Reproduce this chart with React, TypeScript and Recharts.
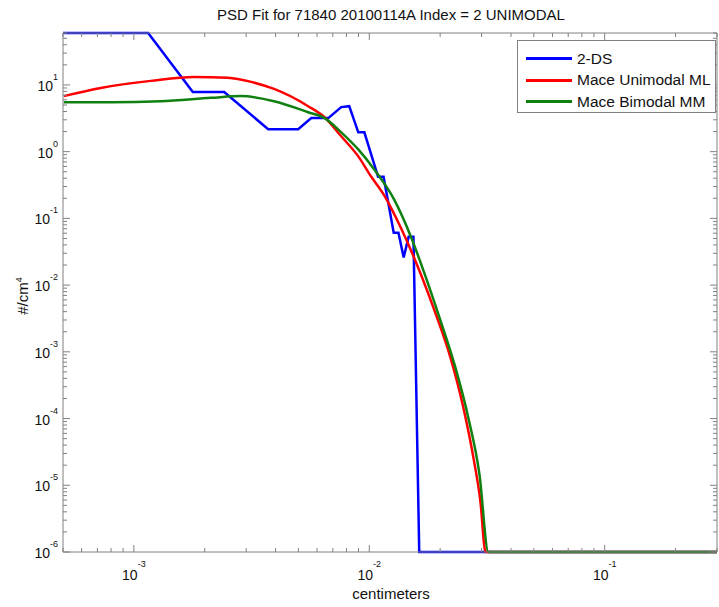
import { Legend, Line, LineChart, XAxis, YAxis } from "recharts";

// 2-DS measured spectrum (cm, #/cm^4), floored at 1e-6
const dsX = [5.0e-4, 1.15e-3, 1.78e-3, 2.42e-3, 3.72e-3, 4.99e-3, 5.67e-3, 6.7e-3, 7.6e-3, 8.22e-3, 8.98e-3, 9.53e-3, 1.09e-2, 1.15e-2, 1.27e-2, 1.33e-2, 1.4e-2, 1.47e-2, 1.54e-2, 1.55e-2, 1.63e-2, 0.3];
const dsY = [60, 60, 7.8, 7.8, 2.17, 2.17, 3.18, 3.18, 4.65, 4.8, 1.95, 1.95, 0.42, 0.42, 0.061, 0.061, 0.026, 0.053, 0.053, 0.0168, 1e-6, 1e-6];

const uniX = [5.04e-4, 7.24e-4, 1.18e-3, 1.8e-3, 2.51e-3, 3.15e-3, 3.94e-3, 5.5e-3, 6.44e-3, 7.6e-3, 8.98e-3, 1.02e-2, 1.159e-2, 1.368e-2, 1.552e-2, 1.871e-2, 2.213e-2, 2.512e-2, 2.773e-2, 2.966e-2, 3.118e-2, 0.3];
const uniY = [6.8, 9.0, 11.5, 13.2, 12.8, 11.1, 8.7, 4.8, 3.3, 1.7, 0.85, 0.42, 0.219, 0.0697, 0.0255, 4.64e-3, 8.18e-4, 1.44e-4, 2.53e-5, 5.7e-6, 1e-6, 1e-6];

const biX = [5.04e-4, 7.98e-4, 1.3e-3, 2.13e-3, 2.85e-3, 3.94e-3, 5.5e-3, 6.44e-3, 7.6e-3, 8.98e-3, 1.05e-2, 1.276e-2, 1.51e-2, 1.714e-2, 1.986e-2, 2.323e-2, 2.636e-2, 2.938e-2, 3.207e-2, 0.3];
const biY = [5.5, 5.5, 5.7, 6.4, 6.8, 5.7, 3.9, 3.2, 1.95, 1.08, 0.54, 0.191, 0.0509, 0.0151, 3.28e-3, 5.78e-4, 1.02e-4, 1.46e-5, 1e-6, 1e-6];

const xTicks = [5e-4, 6e-4, 7e-4, 8e-4, 9e-4, 1e-3, 2e-3, 3e-3, 4e-3, 5e-3, 6e-3, 7e-3, 8e-3, 9e-3, 1e-2, 2e-2, 3e-2, 4e-2, 5e-2, 6e-2, 7e-2, 8e-2, 9e-2, 1e-1, 2e-1, 3e-1];
const yTicks = [
  1e-6, 2e-6, 3e-6, 4e-6, 5e-6, 6e-6, 7e-6, 8e-6, 9e-6,
  1e-5, 2e-5, 3e-5, 4e-5, 5e-5, 6e-5, 7e-5, 8e-5, 9e-5,
  1e-4, 2e-4, 3e-4, 4e-4, 5e-4, 6e-4, 7e-4, 8e-4, 9e-4,
  1e-3, 2e-3, 3e-3, 4e-3, 5e-3, 6e-3, 7e-3, 8e-3, 9e-3,
  1e-2, 2e-2, 3e-2, 4e-2, 5e-2, 6e-2, 7e-2, 8e-2, 9e-2,
  1e-1, 2e-1, 3e-1, 4e-1, 5e-1, 6e-1, 7e-1, 8e-1, 9e-1,
  1, 2, 3, 4, 5, 6, 7, 8, 9, 10, 20, 30, 40, 50, 60,
];

const toRows = (xs: number[], ys: number[]) => xs.map((x, i) => ({ x, y: ys[i] }));
const dsData = toRows(dsX, dsY);
const uniData = toRows(uniX, uniY);
const biData = toRows(biX, biY);

const series = [
  { name: "2-DS", color: "#0000ff" },
  { name: "Mace Unimodal ML", color: "#ff0000" },
  { name: "Mace Bimodal MM", color: "#108010" },
];

const AXIS = "#808080";
const FONT = "'Liberation Sans', Arial, Helvetica, sans-serif";

const expOf = (v: number) => Math.log10(v);
const isMajor = (v: number) => Math.abs(expOf(v) - Math.round(expOf(v))) < 1e-6;

function BottomTick({ x, y, payload }: any) {
  const major = isMajor(payload.value);
  return (
    <g>
      <line x1={x} x2={x} y1={y} y2={y - (major ? 7 : 4)} stroke={AXIS} />
      {major && (
        <text x={x} y={y + 28} textAnchor="middle" fontFamily={FONT} fontSize={14} fill="#111">
          10<tspan dy={-13} fontSize={9}>{Math.round(expOf(payload.value))}</tspan>
        </text>
      )}
    </g>
  );
}

function TopTick({ x, y, payload }: any) {
  const major = isMajor(payload.value);
  return <line x1={x} x2={x} y1={y} y2={y + (major ? 7 : 4)} stroke={AXIS} />;
}

function LeftTick({ x, y, payload }: any) {
  const major = isMajor(payload.value);
  return (
    <g>
      <line x1={x} x2={x + (major ? 7 : 4)} y1={y} y2={y} stroke={AXIS} />
      {major && (
        <text x={x - 5} y={y + 6} textAnchor="end" fontFamily={FONT} fontSize={14} fill="#111">
          10<tspan dy={-11} fontSize={9}>{Math.round(expOf(payload.value))}</tspan>
        </text>
      )}
    </g>
  );
}

function RightTick({ x, y, payload }: any) {
  const major = isMajor(payload.value);
  return <line x1={x} x2={x - (major ? 7 : 4)} y1={y} y2={y} stroke={AXIS} />;
}

function LegendBox() {
  return (
    <div style={{ width: 199, height: 73, border: `1px solid ${AXIS}`, background: "#fff", fontFamily: FONT, fontSize: 15.5, color: "#111", paddingTop: 7, boxSizing: "border-box" }}>
      {series.map((s) => (
        <div key={s.name} style={{ display: "flex", alignItems: "center", height: 21.5 }}>
          <div style={{ width: 46, height: 3, background: s.color, marginLeft: 8, marginRight: 5 }} />
          <span>{s.name}</span>
        </div>
      ))}
    </div>
  );
}

export default function App() {
  return (
    <div style={{ position: "absolute", left: 0, top: 0, width: 719, height: 607, background: "#fff", fontFamily: FONT }}>
      <div style={{ position: "absolute", left: 391, top: 6, transform: "translateX(-50%)", whiteSpace: "nowrap", fontSize: 15, lineHeight: "18px", color: "#111" }}>
        PSD Fit for 71840 20100114A Index = 2 UNIMODAL
      </div>
      <div style={{ position: "absolute", left: 391, top: 585, transform: "translateX(-50%)", whiteSpace: "nowrap", fontSize: 15, lineHeight: "18px", color: "#111" }}>
        centimeters
      </div>
      <div style={{ position: "absolute", left: 21, top: 296, transform: "translate(-50%, -50%) rotate(-90deg)", whiteSpace: "nowrap", fontSize: 15, lineHeight: "18px", color: "#111" }}>
        #/cm<sup style={{ fontSize: 9 }}>4</sup>
      </div>
      <LineChart width={719} height={607} margin={{ top: 32, right: 1, bottom: 54, left: 62 }} style={{ position: "absolute", left: 0, top: 0 }}>
        <XAxis dataKey="x" type="number" scale="log" domain={[5e-4, 0.3]} ticks={xTicks} interval={0} height={1} tickSize={0} tickMargin={0} tickLine={false} axisLine={{ stroke: AXIS }} tick={(p: any) => <BottomTick {...p} />} />
        <XAxis xAxisId="top" orientation="top" dataKey="x" type="number" scale="log" domain={[5e-4, 0.3]} allowDataOverflow ticks={xTicks} interval={0} height={1} tickSize={0} tickMargin={0} tickLine={false} axisLine={{ stroke: AXIS }} tick={(p: any) => <TopTick {...p} />} />
        <YAxis dataKey="y" type="number" scale="log" domain={[1e-6, 60]} ticks={yTicks} interval={0} width={1} tickSize={0} tickMargin={0} tickLine={false} axisLine={{ stroke: AXIS }} tick={(p: any) => <LeftTick {...p} />} />
        <YAxis yAxisId="right" orientation="right" type="number" scale="log" domain={[1e-6, 60]} allowDataOverflow ticks={yTicks} interval={0} width={1} tickSize={0} tickMargin={0} tickLine={false} axisLine={{ stroke: AXIS }} tick={(p: any) => <RightTick {...p} />} />
        <Line data={dsData} dataKey="y" name="2-DS" type="linear" stroke="#0000ff" strokeWidth={2.5} dot={false} isAnimationActive={false} />
        <Line data={uniData} dataKey="y" name="Mace Unimodal ML" type="monotone" stroke="#ff0000" strokeWidth={2.5} dot={false} isAnimationActive={false} />
        <Line data={biData} dataKey="y" name="Mace Bimodal MM" type="monotone" stroke="#108010" strokeWidth={2.5} dot={false} isAnimationActive={false} />
        <Legend layout="vertical" align="center" verticalAlign="middle" wrapperStyle={{ left: 517, top: 40, width: 199, height: 73 }} content={() => <LegendBox />} />
      </LineChart>
    </div>
  );
}
